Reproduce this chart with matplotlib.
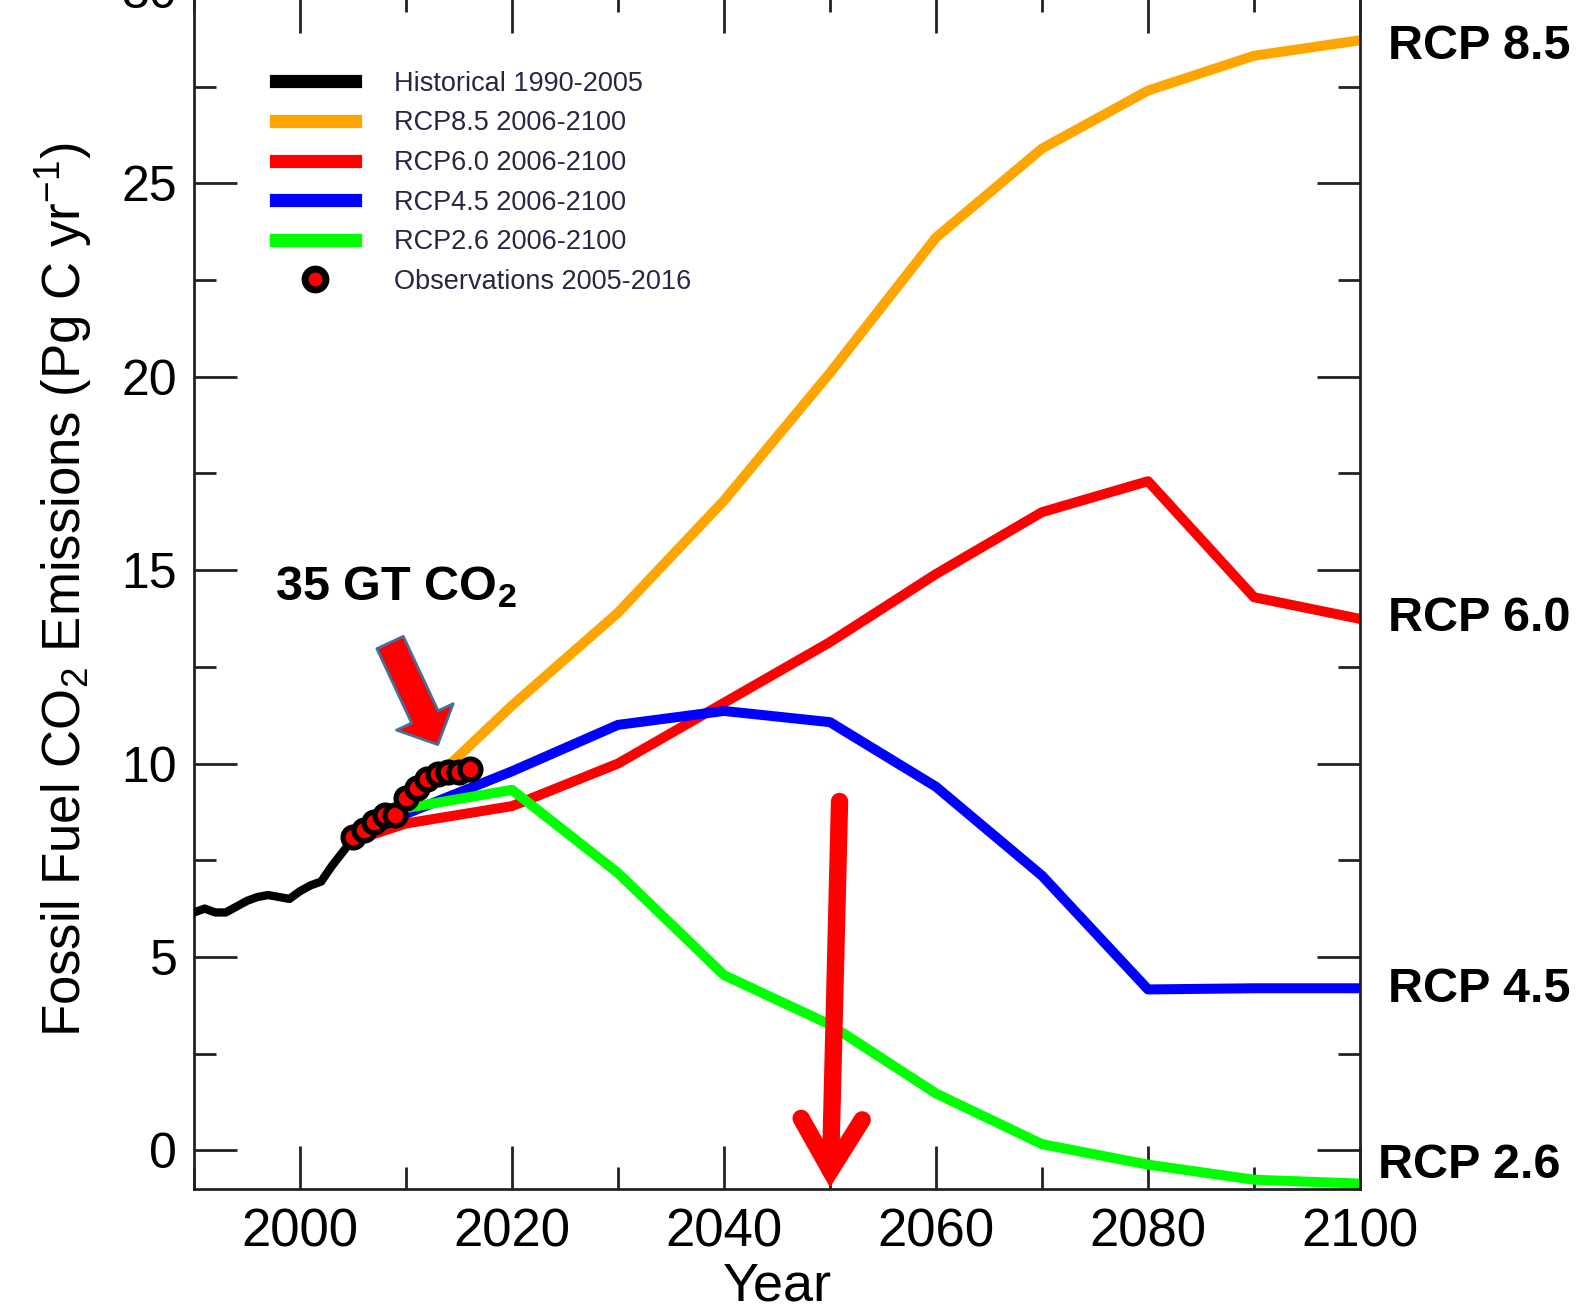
import numpy as np
import matplotlib
matplotlib.use('Agg')
import matplotlib.pyplot as plt
from matplotlib.lines import Line2D
from matplotlib.patches import FancyArrowPatch
from matplotlib.ticker import MultipleLocator

plt.rcParams['font.family'] = ['Liberation Sans', 'DejaVu Sans']
plt.rcParams['mathtext.fontset'] = 'custom'
plt.rcParams['mathtext.rm'] = 'Liberation Sans'
plt.rcParams['mathtext.it'] = 'Liberation Sans:italic'
plt.rcParams['mathtext.bf'] = 'Liberation Sans:bold'

# historical emissions (Pg C / yr)
hist_years = list(range(1990, 2006))
hist_vals = [6.15, 6.25, 6.15, 6.15, 6.3, 6.45, 6.55, 6.6, 6.55, 6.5,
             6.7, 6.85, 6.95, 7.35, 7.7, 8.05]

# RCP scenarios 2005-2100
rcp_years = [2005, 2010, 2020, 2030, 2040, 2050, 2060, 2070, 2080, 2090, 2100]
rcp85 = [8.0, 8.9, 11.5, 13.9, 16.8, 20.1, 23.6, 25.9, 27.4, 28.3, 28.7]
rcp60 = [8.0, 8.45, 8.9, 10.0, 11.57, 13.14, 14.9, 16.5, 17.3, 14.3, 13.74]
rcp45 = [8.0, 8.7, 9.8, 11.0, 11.36, 11.07, 9.4, 7.1, 4.16, 4.19, 4.19]
rcp26 = [8.0, 8.85, 9.32, 7.17, 4.53, 3.25, 1.47, 0.16, -0.37, -0.76, -0.86]

# observations 2005-2016
obs_years = list(range(2005, 2017))
obs_vals = [8.09, 8.29, 8.5, 8.68, 8.68, 9.12, 9.38, 9.59, 9.72, 9.79, 9.79, 9.85]

fig = plt.figure(figsize=(15.85, 13.14), dpi=100)
ax = fig.add_axes([194 / 1585, 125 / 1314, 1166 / 1585, 1199 / 1314])

lw = 7.2
ax.plot(hist_years, hist_vals, color='black', lw=6, solid_capstyle='round', zorder=3)
ax.plot(rcp_years, rcp85, color='#ffa500', lw=lw, zorder=2)
ax.plot(rcp_years, rcp60, color='#ff0000', lw=lw, zorder=2)
ax.plot(rcp_years, rcp45, color='#0000ff', lw=lw, zorder=2)
ax.plot(rcp_years, rcp26, color='#00ff00', lw=lw, zorder=2)
ax.plot(obs_years, obs_vals, 'o', color='#ff0000', mec='black', ms=15, mew=3.8, zorder=4)

ax.set_xlim(1990, 2100)
ax.set_ylim(-1, 30)
ax.xaxis.set_major_locator(MultipleLocator(20))
ax.xaxis.set_minor_locator(MultipleLocator(10))
ax.yaxis.set_major_locator(MultipleLocator(5))
ax.yaxis.set_minor_locator(MultipleLocator(2.5))
ax.tick_params(which='both', direction='in', top=True, right=True, width=2, color='#222222')
ax.tick_params(which='major', length=31)
ax.tick_params(which='minor', length=16)
ax.tick_params(axis='y', labelsize=36, pad=12)
ax.tick_params(axis='x', labelsize=38, pad=13)
for s in ax.spines.values():
    s.set_linewidth(2)
    s.set_color('#222222')

ax.set_xlabel('Year', fontsize=39, labelpad=3)
ax.set_ylabel('Fossil Fuel CO$_2$ Emissions (Pg C yr$^{-1}$)', fontsize=38, labelpad=20)

# legend
handles = [
    Line2D([], [], color='black', lw=9.5),
    Line2D([], [], color='#ffa500', lw=9.5),
    Line2D([], [], color='#ff0000', lw=9.5),
    Line2D([], [], color='#0000ff', lw=9.5),
    Line2D([], [], color='#00ff00', lw=9.5),
    Line2D([], [], ls='none', marker='o', color='#ff0000', mec='black', ms=15, mew=5),
]
labels = ['Historical 1990-2005', 'RCP8.5 2006-2100', 'RCP6.0 2006-2100',
          'RCP4.5 2006-2100', 'RCP2.6 2006-2100', 'Observations 2005-2016']
leg = ax.legend(handles, labels, loc='upper left', bbox_to_anchor=(276 / 1585, 0.946),
                bbox_transform=fig.transFigure, frameon=False, fontsize=19.5,
                handlelength=2.9, handletextpad=1.45, labelspacing=0.5,
                borderpad=0, borderaxespad=0)
for t in leg.get_texts():
    t.set_color('#262645')

# scenario labels on the right
for txt, yv in [('RCP 8.5', 28.55), ('RCP 6.0', 13.75), ('RCP 4.5', 4.17)]:
    ax.text(2102.6, yv, txt, fontsize=35, fontweight='bold', va='center', ha='left', clip_on=False)
ax.text(2101.7, -0.4, 'RCP 2.6', fontsize=35, fontweight='bold', va='center', ha='left', clip_on=False)

ax.text(1997.6, 14.55, r'35 GT CO$_\mathbf{2}$', fontsize=35, fontweight='bold', va='center', ha='left')

# arrows
fat = FancyArrowPatch((2008.5, 13.13), (2013.0, 10.49),
                      arrowstyle='simple,tail_width=1.05,head_width=2.25,head_length=1.1',
                      mutation_scale=20, fc='#ff0000', ec='#41719c', lw=2,
                      shrinkA=0, shrinkB=0, zorder=5)
ax.add_patch(fat)
down = FancyArrowPatch((2050.9, 9.02), (2050.0, -0.96),
                       arrowstyle='->,head_length=1.85,head_width=1.1',
                       mutation_scale=20, color='#ff0000', lw=12.5,
                       capstyle='round', joinstyle='miter',
                       shrinkA=0, shrinkB=0, zorder=5, clip_on=False)
ax.add_patch(down)

fig.savefig('out.png', dpi=100)
